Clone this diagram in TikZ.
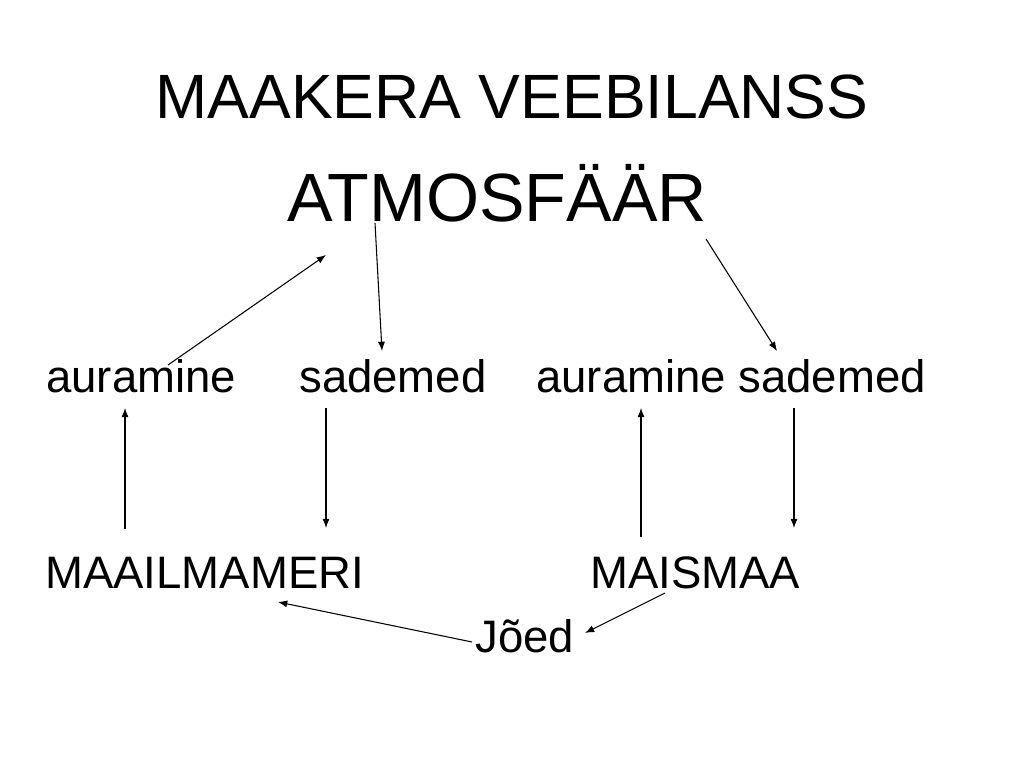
\documentclass[tikz,border=0pt]{standalone}
\usepackage{fontspec}
\setmainfont{Liberation Sans}
\usetikzlibrary{arrows.meta}

\begin{document}
\begin{tikzpicture}[x=0.703125pt, y=-0.703125pt,
		word/.style={inner sep=0pt, anchor=base west, font=\fontsize{32}{38}\selectfont},
		flow/.style={line width=0.75pt, -{Latex[length=6.5pt,width=5pt]}}]
			%%%%% START %%%%%
			
			\useasboundingbox[fill=white] (0, 0) rectangle (1024, 768);
			
			\node[inner sep=0pt, anchor=base, font=\fontsize{44}{52}\selectfont] (title) at (512, 119) {MAAKERA VEEBILANSS};
			\node[inner sep=0pt, anchor=base, font=\fontsize{48}{56}\selectfont] (atm) at (497, 222) {ATMOSFÄÄR};
			
			\node[word] (aur1) at (46, 392) {auramine};
			\node[word] (sad1) at (299, 392) {sademed};
			\node[word] (aur2) at (536, 392) {auramine sademed};
			
			\node[word] (meri) at (45, 588) {MAAILMAMERI};
			\node[word] (maa) at (590, 588) {MAISMAA};
			\node[word] (joed) at (475, 652) {Jõed};
			
			% ends of the arrows
			\coordinate (aur1up) at (168, 365);
			\coordinate (atmin) at (326, 255);
			\coordinate (atmout) at (375, 223);
			\coordinate (sad1in) at (382, 351);
			\coordinate (atmout2) at (706, 239);
			\coordinate (sad2in) at (777, 351);
			
			\coordinate (meriup) at (125, 529);
			\coordinate (aur1in) at (125, 408);
			\coordinate (sad1out) at (326, 408);
			\coordinate (meriin) at (326, 528);
			\coordinate (maaup) at (641, 537);
			\coordinate (aur2in) at (641, 408);
			\coordinate (sad2out) at (794, 408);
			\coordinate (maain) at (794, 528);
			
			\coordinate (joedout) at (472, 642);
			\coordinate (merijoed) at (278, 602);
			\coordinate (maaout) at (665, 593);
			\coordinate (joedin) at (585, 633);
			
			\draw[flow] (aur1up) -- (atmin);
			\draw[flow] (atmout) -- (sad1in);
			\draw[flow] (atmout2) -- (sad2in);
			
			\draw[flow] (meriup) -- (aur1in);
			\draw[flow] (sad1out) -- (meriin);
			\draw[flow] (maaup) -- (aur2in);
			\draw[flow] (sad2out) -- (maain);
			
			\draw[flow] (joedout) -- (merijoed);
			\draw[flow] (maaout) -- (joedin);
			
			%%%%% END %%%%%
\end{tikzpicture}
\end{document}
